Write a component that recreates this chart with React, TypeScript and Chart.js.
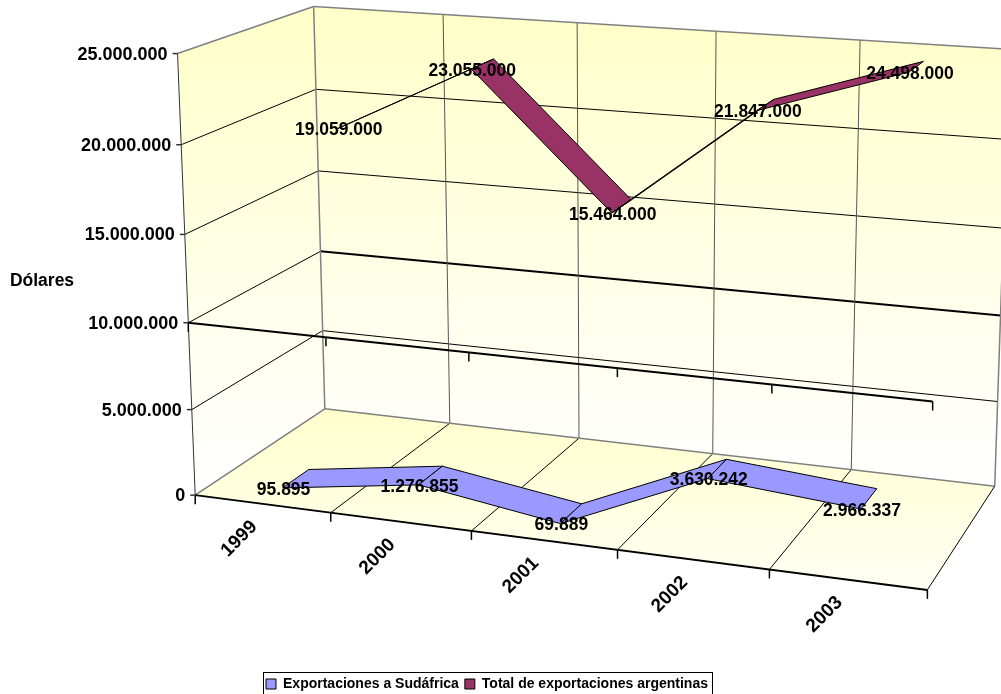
import React, { useEffect, useRef } from "react";
import { Chart, registerables } from "chart.js";

Chart.register(...registerables);

const categories = ["1999", "2000", "2001", "2002", "2003"];
const sudafrica = [95895, 1276855, 69889, 3630242, 2966337];
const totalArgentina = [19059000, 23055000, 15464000, 21847000, 24498000];
const seriesNames = ["Exportaciones a Sudáfrica", "Total de exportaciones argentinas"];
const valueAxisTitle = "Dólares";
const FONT = '"Liberation Sans", Arial, sans-serif';

// Camera calibration: [u, v, w, screenX, screenY]
const calibration: number[][] = [
  [0, 0, 0, 195, 495], [0.2, 0, 0, 330, 512], [0.4, 0, 0, 472, 530], [0.6, 0, 0, 617, 550], [0.8, 0, 0, 769, 570], [1, 0, 0, 927, 590],
  [0, 0, 1, 325, 408], [0.2, 0, 1, 449, 423], [0.4, 0, 1, 579, 438], [0.6, 0, 1, 713, 454], [0.8, 0, 1, 852, 469], [1, 0, 1, 995, 486],
  [0, 1, 1, 313, 7], [0.2, 1, 1, 443, 15], [0.6, 1, 1, 717, 31], [0.8, 1, 1, 862, 40], [1, 1, 1, 1007, 48],
  [0, 0.2, 0, 192, 410], [0, 0.4, 0, 188, 322], [0, 0.6, 0, 185, 234], [0, 0.8, 0, 182, 144], [0, 1, 0, 177, 53],
  [0, 0.2, 1, 323, 332], [0, 0.4, 1, 320, 251], [0, 0.6, 1, 318, 172], [0, 0.8, 1, 316, 89],
  [0.2, 0.4, 0, 327, 338], [0.4, 0.4, 0, 469, 353], [0.6, 0.4, 0, 617, 369], [0.8, 0.4, 0, 772, 385], [1, 0.4, 0, 933, 402],
];

function solveCamera(): number[] {
  const n = 11;
  const A: number[][] = Array.from({ length: n }, () => new Array(n + 1).fill(0));
  const add = (row: number[], b: number) => {
    for (let i = 0; i < n; i++) {
      for (let j = 0; j < n; j++) A[i][j] += row[i] * row[j];
      A[i][n] += row[i] * b;
    }
  };
  for (const [u, v, w, x, y] of calibration) {
    add([u, v, w, 1, 0, 0, 0, 0, -x * u, -x * v, -x * w], x);
    add([0, 0, 0, 0, u, v, w, 1, -y * u, -y * v, -y * w], y);
  }
  for (let c = 0; c < n; c++) {
    let p = c;
    for (let r = c + 1; r < n; r++) if (Math.abs(A[r][c]) > Math.abs(A[p][c])) p = r;
    [A[c], A[p]] = [A[p], A[c]];
    for (let r = 0; r < n; r++) {
      if (r === c) continue;
      const f = A[r][c] / A[c][c];
      for (let k = c; k <= n; k++) A[r][k] -= f * A[c][k];
    }
  }
  return A.map((row, i) => row[n] / row[i]);
}
const cam = solveCamera();
const project = (u: number, v: number, w: number): [number, number] => {
  const d = cam[8] * u + cam[9] * v + cam[10] * w + 1;
  return [
    (cam[0] * u + cam[1] * v + cam[2] * w + cam[3]) / d,
    (cam[4] * u + cam[5] * v + cam[6] * w + cam[7]) / d,
  ];
};

const dotted = (n: number) => String(n).replace(/\B(?=(\d{3})+$)/g, ".");
const bands = [[0.15, 0.35], [0.65, 0.85]];
const AXIS_MID = 10000000;

const scene3d = {
  id: "scene3d",
  afterLayout(chart: any) {
    chart.legend.top += 7;
    chart.legend.bottom += 7;
  },
  beforeDatasetsDraw(chart: any) {
    const { ctx, scales } = chart;
    const xs = scales.x, ys = scales.y;
    const U = (i: number) => (xs.getPixelForValue(i) - xs.left) / xs.width;
    const V = (val: number) => (ys.bottom - ys.getPixelForValue(val)) / ys.height;
    const bounds = categories.map((_, i) => U(i - 0.5)).concat([U(categories.length - 0.5)]);
    const vticks: number[] = ys.ticks.map((t: any) => t.value);
    const vmid = V(AXIS_MID);

    const line = (a: [number, number], b: [number, number], color: string, width: number) => {
      ctx.strokeStyle = color;
      ctx.lineWidth = width;
      ctx.beginPath();
      ctx.moveTo(a[0], a[1]);
      ctx.lineTo(b[0], b[1]);
      ctx.stroke();
    };
    const poly = (pts: [number, number][], fill: any, stroke?: string) => {
      ctx.beginPath();
      pts.forEach((p, i) => (i ? ctx.lineTo(p[0], p[1]) : ctx.moveTo(p[0], p[1])));
      ctx.closePath();
      ctx.fillStyle = fill;
      ctx.fill();
      if (stroke) {
        ctx.strokeStyle = stroke;
        ctx.lineWidth = 1;
        ctx.stroke();
      }
    };

    ctx.save();
    // walls
    const wall = ctx.createLinearGradient(0, 5, 0, 480);
    wall.addColorStop(0, "#FFFFC8");
    wall.addColorStop(1, "#FFFFFF");
    poly([project(0, 0, 1), project(1, 0, 1), project(1, 1, 1), project(0, 1, 1)], wall);
    poly([project(0, 0, 0), project(0, 0, 1), project(0, 1, 1), project(0, 1, 0)], wall);
    const floor = ctx.createLinearGradient(0, 410, 0, 590);
    floor.addColorStop(0, "#FFFFCC");
    floor.addColorStop(1, "#FFFFF4");
    poly([project(0, 0, 0), project(1, 0, 0), project(1, 0, 1), project(0, 0, 1)], floor);

    // grid
    for (const val of vticks) {
      const v = V(val);
      if (val !== 0 && val !== vticks[vticks.length - 1]) {
        line(project(0, v, 0), project(0, v, 1), "#000", 1);
        line(project(0, v, 1), project(1, v, 1), "#000", val === AXIS_MID ? 2 : 1);
      }
    }
    for (let i = 1; i < bounds.length - 1; i++) {
      line(project(bounds[i], 0, 0), project(bounds[i], 0, 1), "#000", 1);
      line(project(bounds[i], 0, 1), project(bounds[i], 1, 1), "#555", 1);
    }
    // frame
    const G = "#808080";
    line(project(0, 0, 0), project(0, 0, 1), G, 1.5);
    line(project(0, 0, 1), project(1, 0, 1), G, 1.5);
    line(project(1, 0, 1), project(1, 1, 1), G, 1.5);
    line(project(0, 1, 1), project(1, 1, 1), G, 1.5);
    line(project(0, 0, 1), project(0, 1, 1), G, 1.5);
    line(project(0, 1, 0), project(0, 1, 1), G, 1.5);
    line(project(1, 0, 0), project(1, 0, 1), "#000", 1);

    // ribbons
    [1, 0].forEach((d) => {
      const meta = chart.getDatasetMeta(d);
      const [w1, w2] = bands[d];
      const ds = chart.data.datasets[d];
      const pts = meta.data.map((el: any) => [(el.x - xs.left) / xs.width, (ys.bottom - el.y) / ys.height]);
      for (let i = 0; i < pts.length - 1; i++) {
        const a = pts[i], b = pts[i + 1];
        poly(
          [project(a[0], a[1], w1), project(b[0], b[1], w1), project(b[0], b[1], w2), project(a[0], a[1], w2)],
          ds.backgroundColor,
          "#000"
        );
      }
    });

    // axes
    line(project(0, 0, 0), project(0, 1, 0), "#333", 1);
    line(project(0, 0, 0), project(1, 0, 0), "#000", 2);
    line(project(0, vmid, 0), project(1, vmid, 0), "#000", 2);
    bounds.forEach((u) => {
      const a = project(u, 0, 0);
      line(a, [a[0], a[1] + 9], "#000", 1.5);
      const m = project(u, vmid, 0);
      line(m, [m[0], m[1] + 9], "#000", 1.5);
    });
    vticks.forEach((val) => {
      const p = project(0, V(val), 0);
      line([p[0] - 5, p[1]], p, "#333", 1.5);
    });

    // texts
    ctx.fillStyle = "#000";
    ctx.font = `bold 18px ${FONT}`;
    ctx.textAlign = "right";
    ctx.textBaseline = "middle";
    vticks.forEach((val) => {
      const p = project(0, V(val), 0);
      ctx.fillText(dotted(val), p[0] - 10, p[1] + 1);
    });
    ctx.textAlign = "center";
    ctx.font = `bold 17.5px ${FONT}`;
    ctx.fillText(valueAxisTitle, 42, 281);
    ctx.font = `bold 19px ${FONT}`;
    categories.forEach((label, i) => {
      const p = project(U(i), 0, 0);
      ctx.save();
      ctx.translate(p[0] - 23, p[1] + 35);
      ctx.rotate(-Math.PI / 4);
      ctx.fillText(label, 0, 0);
      ctx.restore();
    });
    ctx.font = `bold 17.5px ${FONT}`;
    [1, 0].forEach((d) => {
      const meta = chart.getDatasetMeta(d);
      const [w1] = bands[d];
      meta.data.forEach((el: any, i: number) => {
        const p = project((el.x - xs.left) / xs.width, (ys.bottom - el.y) / ys.height, w1);
        ctx.fillText(dotted(chart.data.datasets[d].data[i]), p[0] + 1, p[1] + 2);
      });
    });
    ctx.restore();
  },
  afterDraw(chart: any) {
    const { ctx, legend } = chart;
    ctx.save();
    ctx.strokeStyle = "#000";
    ctx.lineWidth = 1;
    const items = legend.legendHitBoxes;
    const l = items[0].left - 3;
    const r = items[items.length - 1].left + items[items.length - 1].width + 4;
    ctx.strokeRect(Math.round(l) + 0.5, 672.5, Math.round(r - l), 30);
    ctx.restore();
  },
};

export default function App() {
  const ref = useRef<HTMLCanvasElement>(null);
  useEffect(() => {
    const chart = new Chart(ref.current as HTMLCanvasElement, {
      type: "line",
      data: {
        labels: categories,
        datasets: [
          { label: seriesNames[0], data: sudafrica, backgroundColor: "#9999FF", borderColor: "#000", borderWidth: 1, showLine: false, pointRadius: 0 },
          { label: seriesNames[1], data: totalArgentina, backgroundColor: "#993366", borderColor: "#000", borderWidth: 1, showLine: false, pointRadius: 0 },
        ],
      },
      options: {
        responsive: false,
        animation: false,
        devicePixelRatio: 1,
        layout: { padding: { right: 27, bottom: 0 } },
        scales: {
          x: { display: false, offset: true },
          y: { display: false, min: 0, max: 25000000, ticks: { stepSize: 5000000 } },
        },
        plugins: {
          title: { display: false },
          tooltip: { enabled: false },
          legend: {
            position: "bottom",
            labels: { boxWidth: 10, boxHeight: 10, padding: 6, color: "#000", font: { family: FONT, size: 14, weight: "bold" } },
          },
        },
      },
      plugins: [scene3d],
    } as any);
    return () => chart.destroy();
  }, []);
  return (
    <div style={{ position: "absolute", left: 0, top: 0, width: 1001, height: 694, overflow: "hidden", background: "#fff" }}>
      <canvas ref={ref} width={1001} height={694} style={{ display: "block" }} />
    </div>
  );
}
